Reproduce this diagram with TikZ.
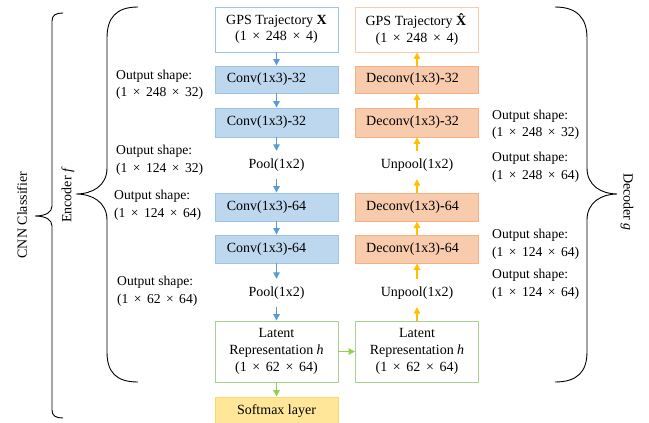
\documentclass[tikz,border=0pt]{standalone}
\usepackage{fontspec}
\setmainfont{Liberation Serif}
\usetikzlibrary{arrows.meta}
\definecolor{bluearr}{HTML}{5B9BD5}
\definecolor{bluefill}{HTML}{BDD7EE}
\definecolor{blueline}{HTML}{9DC3E6}
\definecolor{orfill}{HTML}{F8CBAD}
\definecolor{orline}{HTML}{F4B183}
\definecolor{yelarr}{HTML}{FFC000}
\definecolor{grn}{HTML}{92D050}
\definecolor{grnline}{HTML}{A9D18E}
\definecolor{smfill}{HTML}{FFE699}
\definecolor{smline}{HTML}{FFD966}
\newcommand{\tms}{\hspace{0.4em}×\hspace{0.4em}}
\newcommand{\cv}[1]{Conv(1x3)\textbf{-}#1\hspace{20pt}}
\newcommand{\dcv}[1]{Deconv(1x3)\textbf{-}#1\hspace{9pt}}
\begin{document}
\begin{tikzpicture}[x=1pt,y=-1pt,
  every node/.style={font=\fontsize{14}{16.5}\selectfont, inner sep=0pt},
  basebox/.style={minimum width=123pt, line width=0.9pt, align=center},
  convbox/.style={basebox, draw=blueline, fill=bluefill},
  deconvbox/.style={basebox, draw=orline, fill=orfill},
  inbox/.style={basebox, draw=blueline, fill=white, minimum height=45pt},
  outbox/.style={basebox, draw=orfill, fill=white, minimum height=45pt},
  latbox/.style={basebox, draw=grnline, fill=white, minimum height=61pt, font=\fontsize{14}{17}\selectfont},
  smbox/.style={basebox, draw=smline, fill=smfill, minimum height=29pt},
  pooltxt/.style={minimum height=28pt},
  lbl/.style={align=left, font=\fontsize{13.6}{17.5}\selectfont},
  barr/.style={draw=bluearr, line width=1.3pt, -{Triangle[length=6.5pt,width=6.5pt]}},
  yarr/.style={draw=yelarr, line width=1.3pt, -{Triangle[length=6.5pt,width=6.5pt]}},
  garr/.style={draw=grn, line width=1.3pt, -{Triangle[length=6.5pt,width=6.5pt]}},
  brace/.style={draw=black, line width=0.9pt}
]
\useasboundingbox (0,0) rectangle (649,423);

% encoder column
\node[inbox] (gx) at (276.5,29.5) {GPS Trajectory \textbf{X}\\(1\tms 248\tms 4)};
\node[convbox, minimum height=27pt] (c1) at (276.5,79.5) {\cv{32}};
\node[convbox, minimum height=29pt] (c2) at (276.5,122.5) {\cv{32}};
\node[pooltxt] (p1) at (276.5,165) {Pool(1x2)};
\node[convbox, minimum height=28pt] (c3) at (276.5,207) {\cv{64}};
\node[convbox, minimum height=28pt] (c4) at (276.5,249) {\cv{64}};
\node[pooltxt] (p2) at (276.5,293) {Pool(1x2)};
\node[latbox] (lat) at (276.5,351.5) {Latent\\Representation \textit{h}\\(1\tms 62\tms 64)};
\node[smbox] (sm) at (276.5,411.5) {Softmax layer};

% decoder column
\node[outbox] (gxh) at (417,29.5) {GPS Trajectory \textbf{\^{X}}\\(1\tms 248\tms 4)};
\node[deconvbox, minimum height=27pt] (d1) at (417,79.5) {\dcv{32}};
\node[deconvbox, minimum height=29pt] (d2) at (417,122.5) {\dcv{32}};
\node[pooltxt] (u1) at (417,165) {Unpool(1x2)};
\node[deconvbox, minimum height=28pt] (d3) at (417,207) {\dcv{64}};
\node[deconvbox, minimum height=28pt] (d4) at (417,249) {\dcv{64}};
\node[pooltxt] (u2) at (417,293) {Unpool(1x2)};
\node[latbox] (lat2) at (417,351.5) {Latent\\Representation \textit{h}\\(1\tms 62\tms 64)};

% arrows
\draw[barr] (gx) -- (c1);
\draw[barr] (c1) -- (c2);
\draw[barr] (c2) -- (p1);
\draw[barr] (p1) -- (c3);
\draw[barr] (c3) -- (c4);
\draw[barr] (c4) -- (p2);
\draw[barr] (p2) -- (lat);
\draw[garr] (lat) -- (sm);
\draw[garr] (lat) -- (lat2);
\draw[yarr] (lat2) -- (u2);
\draw[yarr] (u2) -- (d4);
\draw[yarr] (d4) -- (d3);
\draw[yarr] (d3) -- (u1);
\draw[yarr] (u1) -- (d2);
\draw[yarr] (d2) -- (d1);
\draw[yarr] (d1) -- (gxh);

% left labels
\node[lbl, anchor=west] (l1) at (116,84.5) {Output shape:\\(1\tms 248\tms 32)};
\node[lbl, anchor=west] (l2) at (116,160) {Output shape:\\(1\tms 124\tms 32)};
\node[lbl, anchor=west] (l3) at (114,205) {Output shape:\\(1\tms 124\tms 64)};
\node[lbl, anchor=west] (l4) at (117,291) {Output shape:\\(1\tms 62\tms 64)};

% right labels
\node[lbl, anchor=west] (r1) at (492,124.5) {Output shape:\\(1\tms 248\tms 32)};
\node[lbl, anchor=west] (r2) at (492,167) {Output shape:\\(1\tms 248\tms 64)};
\node[lbl, anchor=west] (r3) at (492,244) {Output shape:\\(1\tms 124\tms 64)};
\node[lbl, anchor=west] (r4) at (492,284) {Output shape:\\(1\tms 124\tms 64)};

% braces
\draw[brace] (138,7) .. controls (116,7) and (107,18) .. (107,38) -- (107,168)
  .. controls (107,186) and (92,194) .. (76,194)
  .. controls (92,194) and (107,202) .. (107,220) -- (107,352)
  .. controls (107,372) and (116,382) .. (138,382);
\draw[brace] (63,13) .. controls (56,13) and (52,15) .. (52,21) -- (52,206)
  .. controls (52,212) and (46,216) .. (35,216)
  .. controls (46,216) and (52,220) .. (52,226) -- (52,410)
  .. controls (52,416) and (56,418) .. (63,418);
\draw[brace] (555,7) .. controls (577,7) and (587,18) .. (587,38) -- (587,168)
  .. controls (587,186) and (602,194) .. (617,194)
  .. controls (602,194) and (587,202) .. (587,220) -- (587,352)
  .. controls (587,372) and (577,382) .. (555,382);

\node[rotate=90] (cnn) at (22,215) {CNN Classifier};
\node[rotate=90] (enc) at (68,195) {Encoder \textit{f}};
\node[rotate=-90] (dec) at (627,202) {Decoder \textit{g}};
\end{tikzpicture}
\end{document}
